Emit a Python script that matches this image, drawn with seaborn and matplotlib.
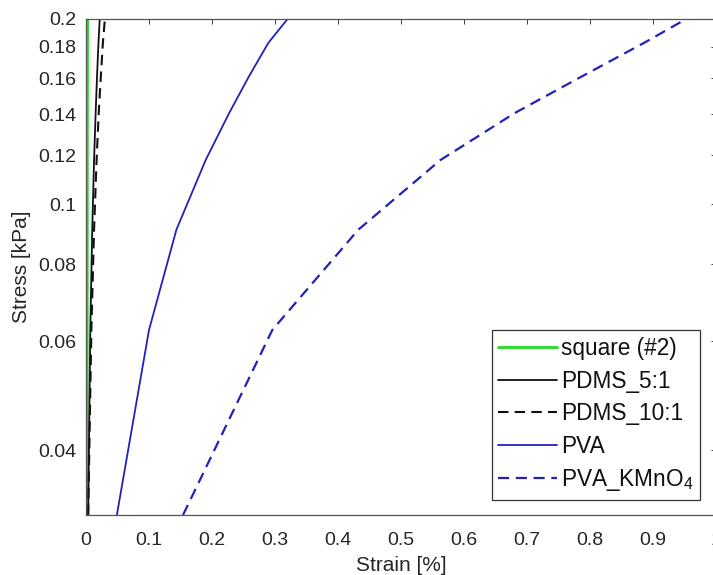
import matplotlib
matplotlib.use("Agg")
import matplotlib.pyplot as plt
import matplotlib.ticker as mticker
import numpy as np
import pandas as pd
import seaborn as sns

# Stress levels shared by all measured curves [kPa]
stress = [0.0314, 0.0626, 0.0910, 0.1180, 0.1406, 0.1610, 0.1826, 0.2000]

# Strain [%] of each sample at those stress levels
strain_square = [0.0018, 0.0019, 0.0020, 0.0021, 0.0022, 0.0023, 0.0024, 0.0025]
strain_pdms_5 = [0.0035, 0.0068, 0.0099, 0.0128, 0.0153, 0.0175, 0.0198, 0.0218]
strain_pdms_10 = [0.0035, 0.0085, 0.0128, 0.0168, 0.0202, 0.0235, 0.0268, 0.0300]
strain_pva = [0.049, 0.100, 0.1435, 0.190, 0.2273, 0.2584, 0.2894, 0.3205]
strain_pva_k = [0.154, 0.2957, 0.4323, 0.5627, 0.6807, 0.7863, 0.8857, 0.954]

labels = ["square (#2)", "PDMS_5:1", "PDMS_10:1", "PVA", "PVA_KMnO$_4$"]
colors = ["#22dd22", "#111111", "#111111", "#2222b8", "#2222b8"]
styles = ["-", "-", (0, (5, 3)), "-", (0, (5, 3))]
widths = [2.0, 1.3, 1.5, 1.3, 1.6]

x_ticks = [0, 0.1, 0.2, 0.3, 0.4, 0.5, 0.6, 0.7, 0.8, 0.9, 1.0]
x_tick_labels = ["0", "0.1", "0.2", "0.3", "0.4", "0.5", "0.6", "0.7", "0.8", "0.9", "1"]
y_ticks = [0.04, 0.06, 0.08, 0.1, 0.12, 0.14, 0.16, 0.18, 0.2]
y_tick_labels = ["0.04", "0.06", "0.08", "0.1", "0.12", "0.14", "0.16", "0.18", "0.2"]

sns.set_style("white")
plt.rcParams["font.family"] = ["Liberation Sans", "DejaVu Sans"]
plt.rcParams["mathtext.default"] = "regular"

fig = plt.figure(figsize=(7.13, 5.75), dpi=100)
ax = fig.add_axes([86 / 713, 60 / 575, 630 / 713, 496.5 / 575])

series = [strain_square, strain_pdms_5, strain_pdms_10, strain_pva, strain_pva_k]
for xs, lab, col, ls, lw in zip(series, labels, colors, styles, widths):
    df = pd.DataFrame({"strain": xs, "stress": stress})
    sns.lineplot(data=df, x="strain", y="stress", ax=ax, sort=False,
                 estimator=None, color=col, linestyle=ls, linewidth=lw,
                 label=lab)

ax.set_yscale("log")
ax.set_xlim(0, 1)
ax.set_ylim(0.0314, 0.2)

ax.xaxis.set_major_locator(mticker.FixedLocator(x_ticks))
ax.xaxis.set_major_formatter(mticker.FixedFormatter(x_tick_labels))
ax.yaxis.set_major_locator(mticker.FixedLocator(y_ticks))
ax.yaxis.set_major_formatter(mticker.FixedFormatter(y_tick_labels))
minor = [round(v, 4) for v in np.arange(0.035, 0.2, 0.005)]
minor = [v for v in minor if all(abs(v - t) > 1e-6 for t in y_ticks)]
ax.yaxis.set_minor_locator(mticker.FixedLocator(minor))
ax.yaxis.set_minor_formatter(mticker.NullFormatter())
ax.xaxis.set_minor_locator(mticker.NullLocator())

tick_col = "#262626"
ax.tick_params(axis="both", which="both", direction="in", top=True,
               right=True, colors="#404040", labelcolor=tick_col,
               labelsize=14, width=0.7)
ax.tick_params(axis="both", which="major", length=3.6)
ax.tick_params(axis="y", which="major", pad=7)
ax.tick_params(axis="x", which="major", pad=12)
ax.tick_params(axis="y", which="minor", length=1.8)

for sp in ax.spines.values():
    sp.set_visible(True)
    sp.set_color("#555555")
    sp.set_linewidth(0.9)

ax.set_xlabel("Strain [%]", fontsize=15, color=tick_col, labelpad=5)
ax.set_ylabel("Stress [kPa]", fontsize=15, color=tick_col, labelpad=5)

leg = ax.legend(loc="lower right", bbox_to_anchor=(0.9746, 0.0302),
                borderaxespad=0, fontsize=16.3, frameon=True, fancybox=False,
                framealpha=1, edgecolor="#333333", handlelength=2.6,
                handletextpad=0.15, labelspacing=0.42, borderpad=0.3)
leg.get_frame().set_linewidth(0.9)
for t in leg.get_texts():
    t.set_color("#111111")

fig.savefig("out.png", dpi=100)
